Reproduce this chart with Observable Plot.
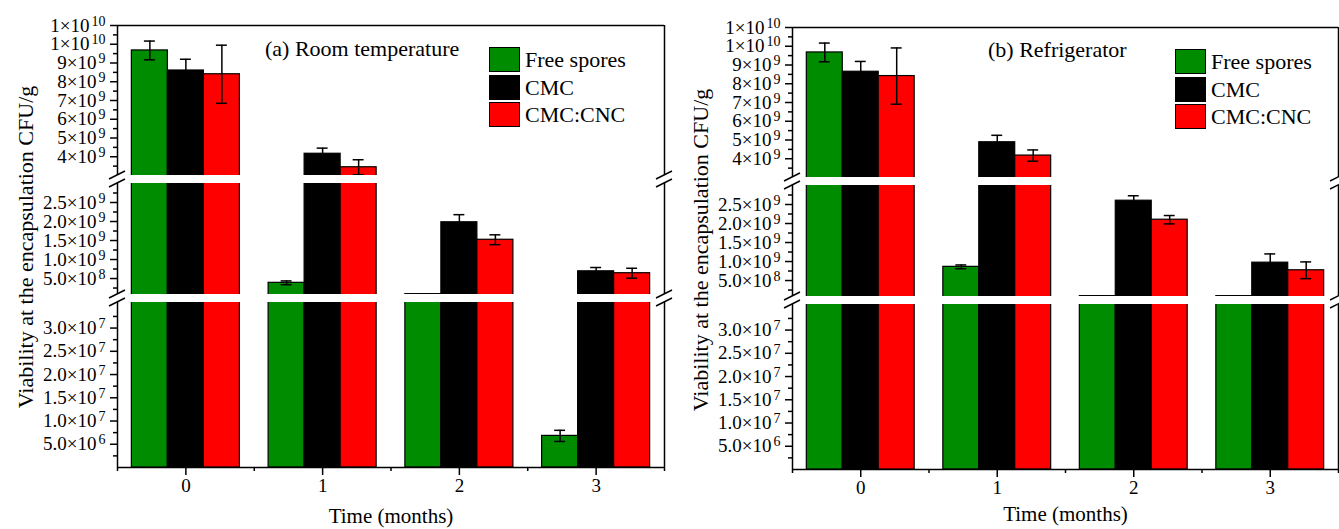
<!DOCTYPE html>
<html>
<head>
<meta charset="utf-8">
<script src="https://cdn.jsdelivr.net/npm/d3@7"></script>
<script src="https://cdn.jsdelivr.net/npm/@observablehq/plot@0.6"></script>
<style>
  body { margin: 0; background: #fff; font-family: "Liberation Serif", "Times New Roman", serif; }
  #root { position: relative; width: 1339px; height: 529px; overflow: hidden; background: #fff; }
  .title { position: absolute; font-size: 22px; line-height: 22px; white-space: nowrap; color: #000; }
  .legend-row { position: absolute; display: flex; align-items: center; font-size: 22px; line-height: 25px; white-space: nowrap; color: #000; }
  .sw { width: 31px; height: 25px; border: 1.5px solid #000; box-sizing: border-box; margin-right: 5px; }
</style>
</head>
<body>
<div id="root"></div>
<script>
// ---------- data ----------
const months = [0, 1, 2, 3];
const series = ["Free spores", "CMC", "CMC:CNC"];
const colors = ["#008C00", "#000000", "#FF0000"];

// (a) Room temperature
const roomFree      = [9.67e9, 3.87e8, 9.0e7, 6.8e6];
const roomFreeErr   = [5.0e8, 5.0e7, 1.0e7, 1.2e6];
const roomCMC       = [8.60e9, 4.16e9, 1.98e9, 6.9e8];
const roomCMCErr    = [6.0e8, 3.0e8, 2.0e8, 1.0e8];
const roomCNC       = [8.40e9, 3.44e9, 1.52e9, 6.4e8];
const roomCNCErr    = [1.55e9, 4.0e8, 1.3e8, 1.3e8];

// (b) Refrigerator
const fridgeFree    = [9.67e9, 8.6e8, 9.0e7, 9.0e7];
const fridgeFreeErr = [5.0e8, 5.0e7, 1.0e7, 1.0e7];
const fridgeCMC     = [8.64e9, 4.88e9, 2.60e9, 9.7e8];
const fridgeCMCErr  = [5.5e8, 3.7e8, 1.3e8, 2.3e8];
const fridgeCNC     = [8.41e9, 4.17e9, 2.10e9, 7.7e8];
const fridgeCNCErr  = [1.5e9, 3.0e8, 1.1e8, 2.2e8];

// y-axis segments (broken axis)
const yTopDomain = [3e9, 1.1e10];
const yTopTicks  = [4e9, 5e9, 6e9, 7e9, 8e9, 9e9, 1e10, 1.1e10];
const yTopLabels = ["4×10⁹", "5×10⁹", "6×10⁹", "7×10⁹", "8×10⁹", "9×10⁹", "1×10¹⁰", "1×10¹⁰"];
const yTopMinor  = [3.5e9, 4.5e9, 5.5e9, 6.5e9, 7.5e9, 8.5e9, 9.5e9, 1.05e10];

const yMidDomain = [8e7, 3e9];
const yMidTicks  = [5e8, 1e9, 1.5e9, 2e9, 2.5e9];
const yMidLabels = ["5.0×10⁸", "1.0×10⁹", "1.5×10⁹", "2.0×10⁹", "2.5×10⁹"];
const yMidMinor  = [2.5e8, 7.5e8, 1.25e9, 1.75e9, 2.25e9, 2.75e9];

const yLowDomain = [0, 3.55e7];
const yLowTicks  = [5e6, 1e7, 1.5e7, 2e7, 2.5e7, 3e7];
const yLowLabels = ["5.0×10⁶", "1.0×10⁷", "1.5×10⁷", "2.0×10⁷", "2.5×10⁷", "3.0×10⁷"];
const yLowMinor  = [2.5e6, 7.5e6, 1.25e7, 1.75e7, 2.25e7, 2.75e7, 3.25e7];

const xTicks = [0, 1, 2, 3];
const xMinor = [-0.5, 0.5, 1.5, 2.5, 3.5];
const xDomain = [-0.5, 3.5];

const yLabel = "Viability at the encapsulation CFU/g";
const xLabel = "Time (months)";

// ---------- layout ----------
const groupWidth = 0.79;
const barW = groupWidth / series.length;
const capHalf = 0.04;
const M = {left: 110, right: 20, top: 10};
const segGap = 8;

const segments = [
  {domain: yTopDomain, ticks: yTopTicks, labels: yTopLabels, minor: yTopMinor, height: 150, breaks: ["bottom"], isTop: true},
  {domain: yMidDomain, ticks: yMidTicks, labels: yMidLabels, minor: yMidMinor, height: 111, breaks: ["top", "bottom"], isMid: true},
  {domain: yLowDomain, ticks: yLowTicks, labels: yLowLabels, minor: yLowMinor, height: 165, breaks: ["top"], isLow: true}
];

const panels = [
  {left: 117, right: 664, top: 25, title: "(a) Room temperature", titleX: 265, titleY: 38, legendX: 489, legendY: 47,
   vals: [roomFree, roomCMC, roomCNC], errs: [roomFreeErr, roomCMCErr, roomCNCErr], labelDy: 8, xTitleDy: 49},
  {left: 792, right: 1338, top: 27, title: "(b) Refrigerator", titleX: 988, titleY: 39, legendX: 1175, legendY: 49,
   vals: [fridgeFree, fridgeCMC, fridgeCNC], errs: [fridgeFreeErr, fridgeCMCErr, fridgeCNCErr], labelDy: 9, xTitleDy: 45}
];

function buildRows(vals, errs) {
  const rows = [];
  series.forEach((s, si) => months.forEach((m, mi) => {
    rows.push({month: m, series: s, si, value: vals[si][mi], err: errs[si][mi]});
  }));
  return rows;
}

function breakMarks(edges) {
  return (index, scales, values, dims) => {
    const g = d3.create("svg:g").attr("stroke", "#000").attr("stroke-width", 1.5).attr("fill", "none");
    const xs = [dims.marginLeft, dims.width - dims.marginRight];
    for (const e of edges) {
      const y = e === "top" ? dims.marginTop : dims.height - dims.marginBottom;
      for (const x of xs) {
        g.append("line").attr("x1", x - 8).attr("y1", y + 4).attr("x2", x + 8).attr("y2", y - 4);
      }
    }
    return g.node();
  };
}

// render unicode superscript exponents as raised tspans
const supMap = {"⁰": "0", "¹": "1", "²": "2", "³": "3", "⁴": "4", "⁵": "5", "⁶": "6", "⁷": "7", "⁸": "8", "⁹": "9"};
function raiseExponents(svg) {
  svg.querySelectorAll("text").forEach(t => {
    const m = t.textContent.match(/^(.*×10)([⁰¹²³⁴⁵⁶⁷⁸⁹]+)$/);
    if (!m) return;
    t.textContent = m[1];
    const ts = document.createElementNS("http://www.w3.org/2000/svg", "tspan");
    ts.setAttribute("dy", "-0.42em");
    ts.setAttribute("dx", "2");
    ts.setAttribute("font-size", "14");
    ts.textContent = [...m[2]].map(c => supMap[c]).join("");
    t.appendChild(ts);
  });
}

const root = document.getElementById("root");

for (const panel of panels) {
  const rows = buildRows(panel.vals, panel.errs);
  const center = d => d.month - groupWidth / 2 + (d.si + 0.5) * barW;
  let segTop = panel.top;
  for (const seg of segments) {
    const mb = seg.isLow ? 70 : 10;
    const W = panel.right - panel.left + M.left + M.right;
    const H = seg.height + M.top + mb;
    const labelMap = new Map(seg.ticks.map((t, i) => [t, seg.labels[i]]));
    const marks = [
      Plot.rect(rows, {
        x1: d => d.month - groupWidth / 2 + d.si * barW,
        x2: d => d.month - groupWidth / 2 + (d.si + 1) * barW,
        y1: 0, y2: "value",
        fill: "series", stroke: "#000", strokeWidth: 1.2, clip: true
      }),
      Plot.ruleX(rows, {x: center, y1: d => d.value - d.err, y2: d => d.value + d.err, stroke: "#000", strokeWidth: 1.5, clip: true}),
      Plot.ruleY(rows, {y: d => d.value + d.err, x1: d => center(d) - capHalf, x2: d => center(d) + capHalf, stroke: "#000", strokeWidth: 1.5, clip: true}),
      Plot.ruleY(rows, {y: d => d.value - d.err, x1: d => center(d) - capHalf, x2: d => center(d) + capHalf, stroke: "#000", strokeWidth: 1.5, clip: true}),
      Plot.ruleX(xDomain, {stroke: "#000", strokeWidth: 1.5}),
      Plot.axisY({ticks: seg.ticks, tickFormat: d => labelMap.get(d), tickSize: 7, tickPadding: 5, fontSize: 19, strokeWidth: 1.5, label: null}),
      Plot.axisY({ticks: seg.minor, tickFormat: () => "", tickSize: 4, strokeWidth: 1.5, label: null}),
      breakMarks(seg.breaks)
    ];
    if (seg.isTop) {
      marks.push(Plot.ruleY([seg.domain[1]], {stroke: "#000", strokeWidth: 1.5}));
    }
    if (seg.isMid) {
      marks.push(Plot.text([yLabel], {frameAnchor: "left", text: d => d, rotate: -90, textAnchor: "middle", lineAnchor: "middle",
        dx: -92, dy: panel.labelDy, fontSize: 22}));
    }
    if (seg.isLow) {
      marks.push(Plot.ruleY([seg.domain[0]], {stroke: "#000", strokeWidth: 1.5}));
      marks.push(Plot.axisX({ticks: xTicks, tickFormat: d => String(d), tickSize: 8, tickPadding: 3, fontSize: 19, strokeWidth: 1.5, label: null}));
      marks.push(Plot.axisX({ticks: xMinor, tickFormat: () => "", tickSize: 4, strokeWidth: 1.5, label: null}));
      marks.push(Plot.text([xLabel], {frameAnchor: "bottom", text: d => d, dy: panel.xTitleDy, fontSize: 21, textAnchor: "middle", lineAnchor: "middle"}));
    }
    const svg = Plot.plot({
      width: W, height: H,
      marginLeft: M.left, marginRight: M.right, marginTop: M.top, marginBottom: mb,
      x: {domain: xDomain, axis: null},
      y: {domain: seg.domain, axis: null},
      color: {domain: series, range: colors},
      style: {background: "transparent", overflow: "visible", fontFamily: "Liberation Serif, Times New Roman, serif", color: "#000"},
      marks
    });
    raiseExponents(svg);
    svg.style.position = "absolute";
    svg.style.left = (panel.left - M.left) + "px";
    svg.style.top = (segTop - M.top) + "px";
    svg.style.maxWidth = "none";
    root.appendChild(svg);
    segTop += seg.height + segGap;
  }

  // title
  const t = document.createElement("div");
  t.className = "title";
  t.style.left = panel.titleX + "px";
  t.style.top = panel.titleY + "px";
  t.textContent = panel.title;
  root.appendChild(t);

  // legend
  series.forEach((s, i) => {
    const row = document.createElement("div");
    row.className = "legend-row";
    row.style.left = panel.legendX + "px";
    row.style.top = (panel.legendY + i * 27.5) + "px";
    const sw = document.createElement("div");
    sw.className = "sw";
    sw.style.background = colors[i];
    const lab = document.createElement("span");
    lab.textContent = s;
    row.appendChild(sw);
    row.appendChild(lab);
    root.appendChild(row);
  });
}
</script>
</body>
</html>
